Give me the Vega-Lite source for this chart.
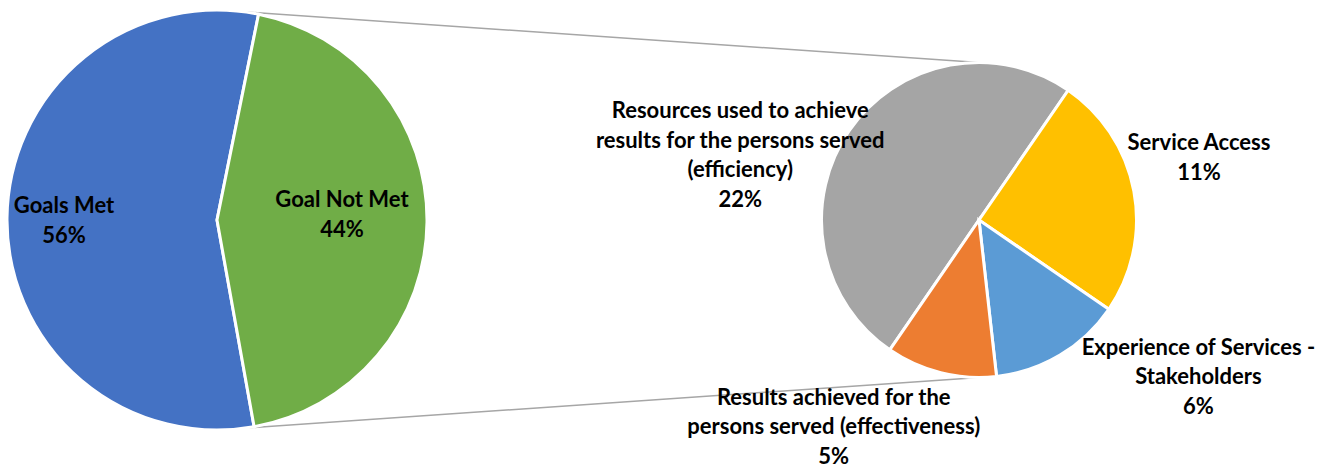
{
  "$schema": "https://vega.github.io/schema/vega-lite/v6.json",
  "width": 1329,
  "height": 469,
  "padding": 0,
  "autosize": {"type": "none"},
  "background": "white",
  "config": {
    "view": {"stroke": null},
    "text": {"font": "Lato", "fontWeight": "bold", "fontSize": 22, "lineHeight": 29.5, "lineBreak": "\n", "color": "#000000", "align": "center", "baseline": "middle"}
  },
  "datasets": {
    "overall": [
      {"category": "Goals Met", "value": 56, "label": "Goals Met"},
      {"category": "Goal Not Met", "value": 44, "label": "Goal Not Met"}
    ],
    "breakdown": [
      {"category": "Resources used to achieve results for the persons served (efficiency)", "value": 22, "label": "Resources used to achieve\nresults for the persons served\n(efficiency)"},
      {"category": "Service Access", "value": 11, "label": "Service Access"},
      {"category": "Experience of Services - Stakeholders", "value": 6, "label": "Experience of Services -\nStakeholders"},
      {"category": "Results achieved for the persons served (effectiveness)", "value": 5, "label": "Results achieved for the\npersons served (effectiveness)"}
    ],
    "connectors": [
      {"from": "Goal Not Met", "to": "breakdown"}
    ]
  },
  "layer": [
    {
      "data": {"name": "connectors"},
      "mark": {"type": "rule", "color": "#A6A6A6", "strokeWidth": 1.5},
      "encoding": {
        "x": {"datum": "Overall", "type": "nominal", "scale": {"type": "point", "domain": ["Overall", "Breakdown"], "range": [217, 979], "padding": 0}, "axis": null},
        "x2": {"datum": "Breakdown"},
        "y": {"datum": 100, "type": "quantitative", "scale": {"type": "linear", "domain": [-100, 100], "range": [430, 10], "nice": false, "zero": false}, "axis": null},
        "y2": {"datum": 75}
      }
    },
    {
      "data": {"name": "connectors"},
      "mark": {"type": "rule", "color": "#A6A6A6", "strokeWidth": 1.5},
      "encoding": {
        "x": {"datum": "Overall", "type": "nominal", "axis": null},
        "x2": {"datum": "Breakdown"},
        "y": {"datum": -100, "type": "quantitative", "axis": null},
        "y2": {"datum": -75}
      }
    },
    {
      "data": {"name": "overall"},
      "transform": [{"calculate": "datum.label + '\\n' + datum.value + '%'", "as": "text"}],
      "encoding": {
        "x": {"datum": "Overall", "type": "nominal", "axis": null},
        "y": {"datum": 0, "type": "quantitative", "axis": null},
        "theta": {"field": "value", "type": "quantitative", "stack": true, "scale": {"range": [2.964, 9.247]}},
        "order": {"field": "value", "sort": "descending"},
        "detail": {"field": "category"}
      },
      "layer": [
        {
          "mark": {"type": "arc", "stroke": "white", "strokeWidth": 3},
          "encoding": {
            "radius": {"datum": 100, "type": "quantitative", "scale": {"type": "linear", "domain": [0, 100], "range": [0, 210], "zero": true}},
            "color": {"field": "category", "type": "nominal", "legend": null, "scale": {
              "domain": ["Goals Met", "Goal Not Met", "Resources used to achieve results for the persons served (efficiency)", "Service Access", "Experience of Services - Stakeholders", "Results achieved for the persons served (effectiveness)"],
              "range": ["#4472C4", "#70AD47", "#A5A5A5", "#FFC000", "#5B9BD5", "#ED7D31"]}}
          }
        },
        {
          "mark": {"type": "text", "radius": 153, "dy": -12},
          "encoding": {"text": {"condition": {"test": "datum.category === 'Goals Met'", "field": "text", "type": "nominal"}, "value": ""}}
        },
        {
          "mark": {"type": "text", "radius": 125, "dy": -21},
          "encoding": {"text": {"condition": {"test": "datum.category === 'Goal Not Met'", "field": "text", "type": "nominal"}, "value": ""}}
        }
      ]
    },
    {
      "data": {"name": "breakdown"},
      "transform": [{"calculate": "datum.label + '\\n' + datum.value + '%'", "as": "text"}],
      "encoding": {
        "x": {"datum": "Breakdown", "type": "nominal", "axis": null},
        "y": {"datum": 0, "type": "quantitative", "axis": null},
        "theta": {"field": "value", "type": "quantitative", "stack": true, "scale": {"range": [3.744, 10.027]}},
        "order": {"field": "value", "sort": "descending"},
        "detail": {"field": "category"}
      },
      "layer": [
        {
          "mark": {"type": "arc", "stroke": "white", "strokeWidth": 3},
          "encoding": {
            "radius": {"datum": 75, "type": "quantitative"},
            "color": {"field": "category", "type": "nominal", "legend": null}
          }
        },
        {
          "mark": {"type": "text", "radius": 240, "dx": -41, "dy": 27},
          "encoding": {"text": {"condition": {"test": "datum.value === 22", "field": "text", "type": "nominal"}, "value": ""}}
        },
        {
          "mark": {"type": "text", "radius": 240, "dx": -16, "dy": -33},
          "encoding": {"text": {"condition": {"test": "datum.category === 'Service Access'", "field": "text", "type": "nominal"}, "value": ""}}
        },
        {
          "mark": {"type": "text", "radius": 240, "dx": 96, "dy": -78},
          "encoding": {"text": {"condition": {"test": "datum.value === 6", "field": "text", "type": "nominal"}, "value": ""}}
        },
        {
          "mark": {"type": "text", "radius": 240, "dx": -87, "dy": -55},
          "encoding": {"text": {"condition": {"test": "datum.value === 5", "field": "text", "type": "nominal"}, "value": ""}}
        }
      ]
    }
  ],
  "resolve": {"scale": {"theta": "independent"}}
}
